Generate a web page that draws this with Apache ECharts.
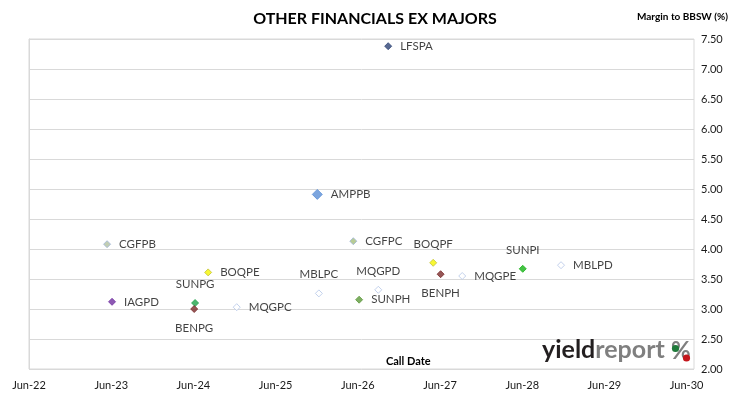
<!DOCTYPE html>
<html>
<head>
<meta charset="utf-8">
<script src="https://cdn.jsdelivr.net/npm/echarts@6/dist/echarts.min.js"></script>
<style>
  html, body { margin: 0; padding: 0; background: #fff; }
  #chart { width: 730px; height: 399px; }
</style>
</head>
<body>
<div id="chart"></div>
<script>
// securities, call dates and margin to BBSW (%)
var names = ['LFSPA', 'AMPPB', 'CGFPB', 'CGFPC', 'BOQPE', 'BOQPF', 'SUNPI', 'MBLPD', 'BENPH',
  'MQGPE', 'MBLPC', 'MQGPD', 'SUNPH', 'IAGPD', 'SUNPG', 'BENPG', 'MQGPC']
var callDates = ['2026-10-28', '2025-12-17', '2023-05-28', '2026-05-26', '2024-08-19', '2027-05-16',
  '2028-06-17', '2028-12-04', '2027-06-18', '2027-09-22', '2025-12-24', '2026-09-14', '2026-06-21',
  '2023-06-19', '2024-06-22', '2024-06-18', '2024-12-24']
var margins = [7.38, 4.91, 4.08, 4.13, 3.61, 3.77, 3.67, 3.73, 3.58,
  3.55, 3.26, 3.32, 3.155, 3.12, 3.10, 3.00, 3.03]
var yearTicks = ['Jun-22', 'Jun-23', 'Jun-24', 'Jun-25', 'Jun-26', 'Jun-27', 'Jun-28', 'Jun-29', 'Jun-30']

var baseDate = Date.UTC(2022, 5, 15)
var yearMs = 365.25 * 86400000

var hollow = { color: '#fff', borderColor: '#b4c6e7', borderWidth: 1 }
var styles = {
  LFSPA: { color: '#2e4476', pos: 'right' },
  AMPPB: { color: '#5b8fd6', pos: 'right', size: 10 },
  CGFPB: { color: '#b3c2a0', border: '#9fb4d8', pos: 'right' },
  CGFPC: { color: '#a6bf7a', border: '#9fb4d8', pos: 'right' },
  BOQPE: { color: '#f5f500', border: '#c2c23a', pos: 'right' },
  BOQPF: { color: '#f5f500', border: '#c2c23a', pos: 'top' },
  SUNPI: { color: '#17b317', pos: 'top' },
  MBLPD: { hollow: true, pos: 'right' },
  BENPH: { color: '#7b2c2c', pos: 'bottom' },
  MQGPE: { hollow: true, pos: 'right' },
  MBLPC: { hollow: true, pos: 'top' },
  MQGPD: { hollow: true, pos: 'top' },
  SUNPH: { color: '#5e9a3c', pos: 'right' },
  IAGPD: { color: '#7030a0', pos: 'right' },
  SUNPG: { color: '#1fa24a', pos: 'top' },
  BENPG: { color: '#7b2c2c', pos: 'bottom' },
  MQGPC: { hollow: true, pos: 'right' }
}

var font = 'Lato, "Open Sans", sans-serif'
var points = []
for (var i = 0; i < names.length; i++) {
  var s = styles[names[i]]
  var x = (Date.parse(callDates[i]) - baseDate) / yearMs
  points.push({
    name: names[i],
    value: [x, margins[i]],
    symbolSize: s.size || 7,
    itemStyle: s.hollow ? hollow : { color: s.color, borderColor: s.border || s.color, borderWidth: 1 },
    label: { position: s.pos, distance: s.pos === 'right' ? 8 : 9 }
  })
}

var chart = echarts.init(document.getElementById('chart'))
var option = {
  animation: false,
  textStyle: { fontFamily: font },
  title: {
    text: 'OTHER FINANCIALS EX MAJORS',
    left: 370,
    textAlign: 'center',
    top: 6,
    textStyle: { fontFamily: font, fontSize: 16, fontWeight: 'bold', color: '#000' }
  },
  grid: {
    left: 29,
    right: 36,
    top: 39,
    bottom: 30,
    show: true,
    borderColor: '#d9d9d9',
    borderWidth: 1
  },
  xAxis: {
    type: 'value',
    min: 0,
    max: 8.09,
    interval: 1,
    axisLine: { show: false },
    axisTick: { show: false },
    splitLine: { show: false },
    axisLabel: {
      margin: 11,
      color: '#1a1a1a',
      fontSize: 11,
      fontFamily: font,
      showMaxLabel: false,
      formatter: function (v) {
        var k = Math.round(v)
        return Math.abs(v - k) < 1e-6 ? yearTicks[k] : ''
      }
    }
  },
  yAxis: {
    type: 'value',
    position: 'right',
    min: 2,
    max: 7.5,
    interval: 0.5,
    axisLine: { show: true, lineStyle: { color: '#d9d9d9' } },
    axisTick: { show: true, length: 5, lineStyle: { color: '#d9d9d9' } },
    splitLine: { lineStyle: { color: '#d9d9d9', width: 1 } },
    axisLabel: {
      margin: 7,
      color: '#1a1a1a',
      fontSize: 11,
      fontFamily: font,
      formatter: function (v) { return v.toFixed(2) }
    }
  },
  graphic: [
    {
      type: 'text', right: 2, top: 12,
      style: { text: 'Margin to BBSW (%)', fontFamily: font, fontWeight: 'bold', fontSize: 10, fill: '#000' }
    },
    {
      type: 'text', left: 386, top: 356,
      style: { text: 'Call Date', fontFamily: font, fontWeight: 'bold', fontSize: 11, fill: '#000' }
    },
    {
      type: 'text', left: 542, top: 337, z: 100,
      style: {
        text: '{a|yield}{b|report}',
        rich: {
          a: { fontFamily: font, fontWeight: 'bold', fontSize: 25, fill: '#231f20' },
          b: { fontFamily: font, fontWeight: 'bold', fontSize: 25, fill: '#7f7f7f' }
        }
      }
    },
    {
      type: 'text', left: 671, top: 339, z: 100,
      style: { text: '%', fontFamily: font, fontWeight: 'bold', fontSize: 24, fill: '#7f7f7f' }
    },
    { type: 'circle', shape: { cx: 675.5, cy: 348.5, r: 3.6 }, style: { fill: '#1f7a3a' }, z: 120 },
    { type: 'circle', shape: { cx: 686.5, cy: 358, r: 3.6 }, style: { fill: '#c4161c' }, z: 120 }
  ],
  series: [{
    type: 'scatter',
    symbol: 'diamond',
    data: points,
    label: {
      show: true,
      formatter: '{b}',
      color: '#111',
      fontSize: 11.5,
      fontFamily: font
    }
  }]
}
chart.setOption(option)
</script>
</body>
</html>
